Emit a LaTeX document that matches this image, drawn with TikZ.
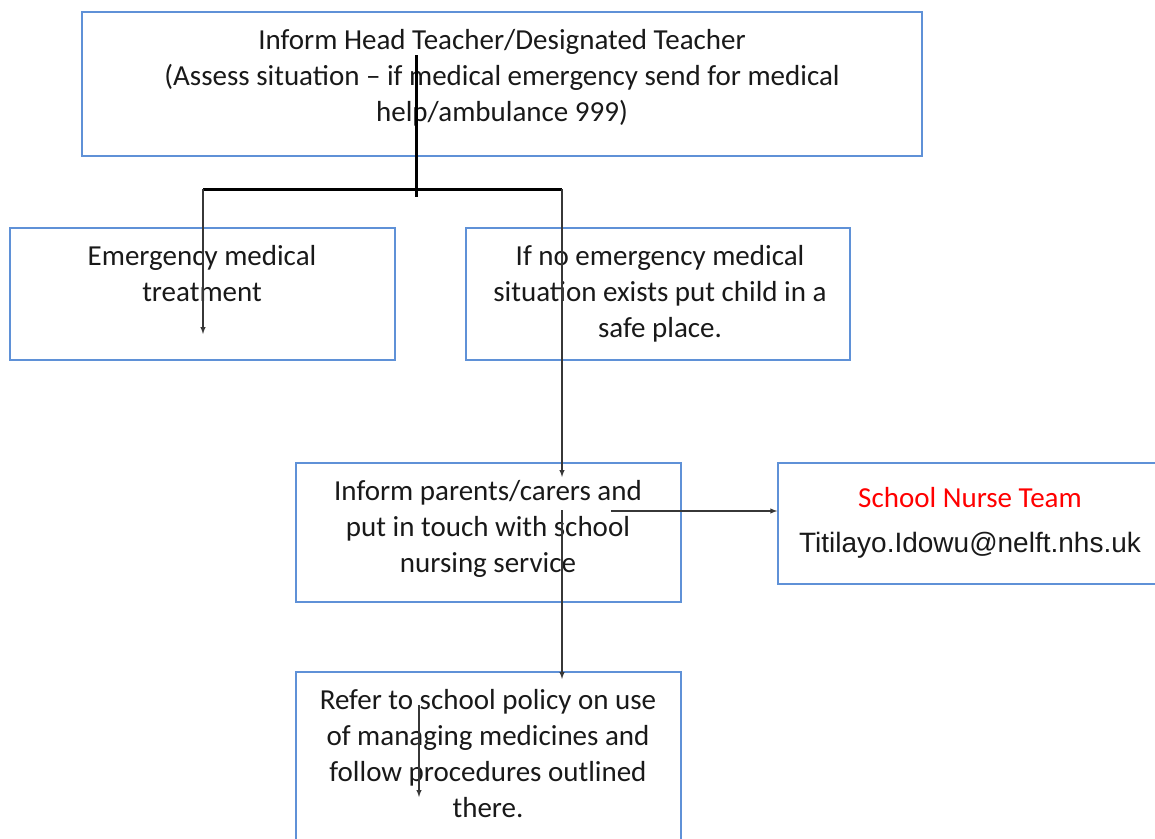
\documentclass[tikz,border=0pt]{standalone}
\usepackage{fontspec}
\setmainfont{Carlito}
\newfontfamily\arialfont{Liberation Sans}
\usetikzlibrary{positioning}
\definecolor{boxblue}{RGB}{95,145,215}
\definecolor{linegray}{RGB}{55,55,55}
\definecolor{txtgray}{RGB}{25,25,25}
\tikzset{
  box/.style={draw=boxblue,line width=1.4pt,inner sep=0pt},
  txt/.style={align=center,font=\fontsize{29}{35.8}\selectfont,text=txtgray,inner sep=0pt,anchor=north},
  joint/.style={line width=3pt,black},
  flow/.style={line width=1.4pt,linegray,->,>=latex}
}
\begin{document}
\begin{tikzpicture}[x=1pt,y=-1pt]
\useasboundingbox (0,0) rectangle (1155,838);
% boxes
\node[box,minimum width=840pt,minimum height=144pt] (head) at (502,84) {};
\node[box,minimum width=385pt,minimum height=132pt] (emerg) at (202.5,294) {};
\node[box,minimum width=384pt,minimum height=132pt] (safe) at (658,294) {};
\node[box,minimum width=385pt,minimum height=139pt] (parents) at (488.5,532.5) {};
\node[box,minimum width=390pt,minimum height=121pt] (nurse) at (973,523.5) {};
\node[box,minimum width=385pt,minimum height=200pt] (policy) at (488.5,772) {};
% texts
\node[txt] (headtext) at (502,29.5) {Inform Head Teacher/Designated Teacher\\(Assess situation -- if medical emergency send for medical\\help/ambulance 999)};
\node[txt] (emergtext) at (202,245.5) {Emergency medical\\treatment};
\node[txt] (safetext) at (660,245.5) {If no emergency medical\\situation exists put child in a\\safe place.};
\node[txt] (parentstext) at (488,480.5) {Inform parents/carers and\\put in touch with school\\nursing service};
\node[txt,text=red] (nursetext) at (970,487.5) {School Nurse Team};
\node[txt,font=\arialfont\fontsize{28}{34}\selectfont] (mailtext) at (970,532) {Titilayo.Idowu@nelft.nhs.uk};
\node[txt] (policytext) at (488,689.5) {Refer to school policy on use\\of managing medicines and\\follow procedures outlined\\there.};
% connectors
\coordinate (a1) at (416,55);
\coordinate (a2) at (416,197);
\coordinate (bl) at (203,189);
\coordinate (br) at (562,189);
\coordinate (el) at (203,334);
\coordinate (er) at (562,477);
\coordinate (p1) at (562,510);
\coordinate (p2) at (562,679);
\coordinate (n1) at (611,511);
\coordinate (q1) at (419,705);
\coordinate (q2) at (419,797);
\draw[joint] (a1) -- (a2);
\draw[joint] (bl) -- (br);
\draw[flow] (bl) -- (el);
\draw[flow] (br) -- (er);
\draw[flow] (p1) -- (p2);
\draw[flow] (n1) -- (n1 -| nurse.west);
\draw[flow] (q1) -- (q2);
\end{tikzpicture}
\end{document}
